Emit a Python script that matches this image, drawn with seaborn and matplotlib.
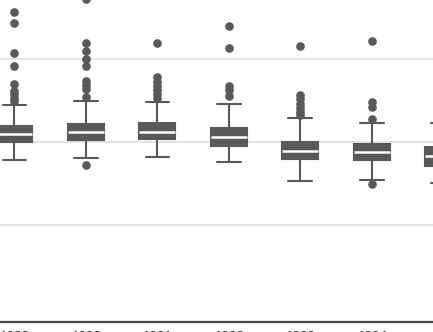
import numpy as np
import pandas as pd
import matplotlib
matplotlib.use("Agg")
import matplotlib.pyplot as plt
import seaborn as sns

# ---- data ----
years = ["1989", "1990", "1991", "1992", "1993", "1994", "1995"]
q1 = [30.00, 30.30, 30.34, 29.59, 27.99, 27.90, 27.18]
median = [30.96, 31.28, 31.28, 30.67, 28.95, 28.87, 28.39]
q3 = [31.96, 32.24, 32.29, 31.76, 30.07, 29.80, 29.47]
whisker_low = [27.83, 28.07, 28.23, 27.63, 25.34, 25.42, 25.06]
whisker_high = [34.46, 35.01, 34.82, 34.61, 32.89, 32.36, 32.36]
outliers_high = [
    [45.66, 44.34, 40.80, 39.23, 36.99, 36.22, 35.78, 35.37, 34.98],
    [47.27, 41.93, 41.04, 40.07, 39.19, 37.35, 36.87, 36.46, 35.42],
    [42.02, 37.83, 37.30, 36.78, 36.30, 35.78, 35.30],
    [44.01, 41.33, 36.82, 36.30, 35.61],
    [41.57, 35.70, 35.20, 34.60, 34.10, 33.60, 33.25],
    [42.20, 34.89, 34.22, 32.77],
    [],
]
outliers_low = [[], [27.30], [], [], [], [24.95], []]

# ---- build long table for seaborn ----
K = 40
rows = []
for i, y in enumerate(years):
    vals = (outliers_low[i] + [whisker_low[i]] + [q1[i]] * K + [median[i]] * K
            + [q3[i]] * K + [whisker_high[i]] + outliers_high[i])
    rows += [(y, v) for v in vals]
df = pd.DataFrame(rows, columns=["year", "value"])

sns.set_style("white")
plt.rcParams["font.family"] = ["Liberation Sans", "DejaVu Sans"]

gray = "#595959"
fig = plt.figure(figsize=(4.33, 3.32), dpi=100)
ax = fig.add_axes([0, 10.5 / 332, 1, 321.5 / 332])

sns.boxplot(
    data=df, x="year", y="value", order=years, ax=ax,
    color=gray, saturation=1, width=0.5, linecolor=gray, linewidth=1.5,
    capwidths=0.33,
    medianprops={"color": "white", "linewidth": 1.8},
    flierprops={"marker": "o", "markerfacecolor": gray,
                "markeredgecolor": gray, "markersize": 5.2},
)

ax.set_xlim(-0.2, 5.856)
ax.set_ylim(8.41, 47.14)
ax.set_yticks([20, 30, 40])
ax.set_yticklabels([])
ax.tick_params(axis="y", length=0)
ax.tick_params(axis="x", length=0, pad=6.8, labelsize=9.7, labelcolor="#222222")
ax.yaxis.grid(True, color="#dedede", linewidth=1.2)
ax.set_axisbelow(True)
for s in ["left", "right", "top"]:
    ax.spines[s].set_visible(False)
ax.spines["bottom"].set_color("#444444")
ax.spines["bottom"].set_linewidth(1.6)
ax.set_xlabel("")
ax.set_ylabel("")

fig.savefig("out.png", dpi=100)
